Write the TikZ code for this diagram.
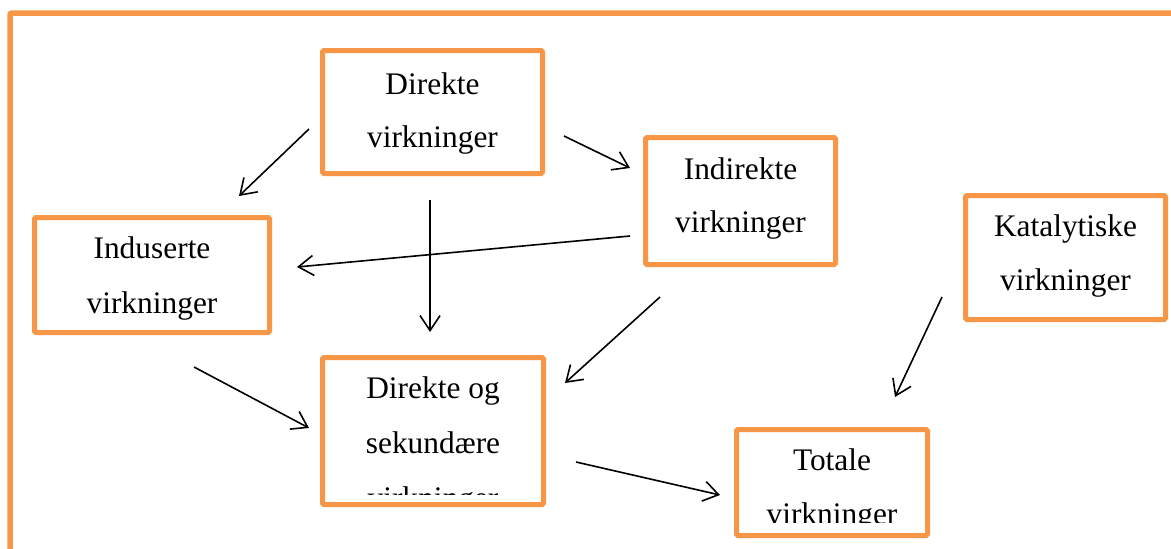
\documentclass[tikz,border=0pt]{standalone}
\usepackage{fontspec}
\setmainfont{Liberation Serif}
\usetikzlibrary{arrows.meta}
\definecolor{frameorange}{HTML}{F79646}
\begin{document}
\begin{tikzpicture}[x=1pt,y=-1pt,
  box/.style={draw=frameorange, line width=5pt, rounded corners=1.5pt, rectangle, inner sep=0pt, fill=none},
  lbl/.style={inner sep=0pt, anchor=base, font=\fontsize{31.4}{54}\selectfont},
  conn/.style={draw=black, line width=1.6pt, -{Straight Barb[length=15pt,width=20pt,line width=1.6pt]}}]
\useasboundingbox (0,0) rectangle (1171,549);
\clip (0,0) rectangle (1171,549);
% outer frame
\draw[frameorange, line width=5.5pt, rounded corners=2pt] (10,13) rectangle (1200,600);
% boxes
\node[box, minimum width=220pt, minimum height=123pt] (dir) at (432.5,112) {};
\node[box, minimum width=190pt, minimum height=127pt] (indir) at (740.5,201) {};
\node[box, minimum width=235pt, minimum height=115pt] (indus) at (152,275) {};
\node[box, minimum width=200pt, minimum height=124pt] (kat) at (1065.5,257.5) {};
\node[box, minimum width=221pt, minimum height=147pt] (ds) at (433,431) {};
\node[box, minimum width=191pt, minimum height=106pt] (tot) at (832,482.5) {};
% texts
\node[lbl] (dirA) at (432.5,94) {Direkte};
\node[lbl] (dirB) at (432.5,147) {virkninger};
\node[lbl] (indirA) at (740.5,179) {Indirekte};
\node[lbl] (indirB) at (740.5,232) {virkninger};
\node[lbl] (indusA) at (152,258) {Induserte};
\node[lbl] (indusB) at (152,313) {virkninger};
\node[lbl] (katA) at (1065.5,236) {Katalytiske};
\node[lbl] (katB) at (1065.5,290) {virkninger};
\node[lbl] (dsA) at (433,398) {Direkte og};
\node[lbl] (dsB) at (433,453) {sekundære};
\begin{scope}
  \clip (322,357) rectangle (544,494);
  \node[lbl] (dsC) at (433,508) {virkninger};
\end{scope}
\node[lbl] (totA) at (832,470) {Totale};
\begin{scope}
  \clip (736,429) rectangle (928,522);
  \node[lbl] (totB) at (832,524) {virkninger};
\end{scope}
% connector end points
\coordinate (c1s) at (309,129); \coordinate (c1e) at (239,196);
\coordinate (c2s) at (564,136); \coordinate (c2e) at (630,168);
\coordinate (c3s) at (430,200); \coordinate (c3e) at (430,332);
\coordinate (c4s) at (630,236); \coordinate (c4e) at (297,267);
\coordinate (c5s) at (660,297); \coordinate (c5e) at (565,383);
\coordinate (c6s) at (194,367); \coordinate (c6e) at (309,428);
\coordinate (c7s) at (576,462); \coordinate (c7e) at (720,495);
\coordinate (c8s) at (942,297); \coordinate (c8e) at (895,397);
% connectors
\draw[conn] (c1s) -- (c1e);
\draw[conn] (c2s) -- (c2e);
\draw[conn] (c3s) -- (c3e);
\draw[conn] (c4s) -- (c4e);
\draw[conn] (c5s) -- (c5e);
\draw[conn] (c6s) -- (c6e);
\draw[conn] (c7s) -- (c7e);
\draw[conn] (c8s) -- (c8e);
\end{tikzpicture}
\end{document}
